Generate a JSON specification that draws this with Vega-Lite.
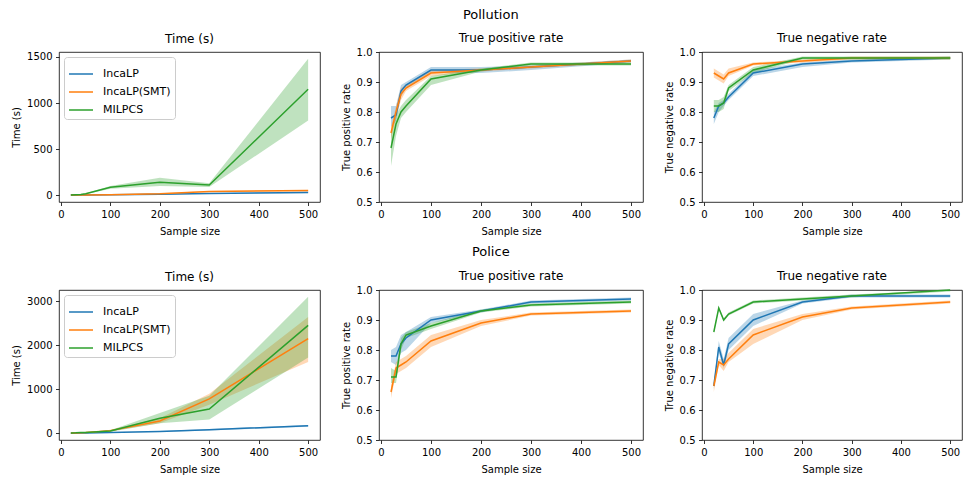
{
  "$schema": "https://vega.github.io/schema/vega-lite/v6.json",
  "padding": {"left": 11, "top": 8, "right": 0, "bottom": 0},
  "background": "white",
  "datasets": {
    "d": [
      {"d":"Pollution","m":"time","g":"IncaLP","n":20,"y":1,"lo":0,"hi":2},
      {"d":"Pollution","m":"time","g":"IncaLP","n":30,"y":1,"lo":0,"hi":2},
      {"d":"Pollution","m":"time","g":"IncaLP","n":40,"y":2,"lo":1,"hi":3},
      {"d":"Pollution","m":"time","g":"IncaLP","n":50,"y":2,"lo":1,"hi":3},
      {"d":"Pollution","m":"time","g":"IncaLP","n":100,"y":4,"lo":3,"hi":5},
      {"d":"Pollution","m":"time","g":"IncaLP","n":200,"y":9,"lo":7,"hi":11},
      {"d":"Pollution","m":"time","g":"IncaLP","n":300,"y":18,"lo":15,"hi":21},
      {"d":"Pollution","m":"time","g":"IncaLP","n":500,"y":30,"lo":25,"hi":36},
      {"d":"Pollution","m":"time","g":"IncaLP(SMT)","n":20,"y":1,"lo":0,"hi":2},
      {"d":"Pollution","m":"time","g":"IncaLP(SMT)","n":30,"y":2,"lo":1,"hi":3},
      {"d":"Pollution","m":"time","g":"IncaLP(SMT)","n":40,"y":2,"lo":1,"hi":3},
      {"d":"Pollution","m":"time","g":"IncaLP(SMT)","n":50,"y":3,"lo":2,"hi":4},
      {"d":"Pollution","m":"time","g":"IncaLP(SMT)","n":100,"y":6,"lo":5,"hi":8},
      {"d":"Pollution","m":"time","g":"IncaLP(SMT)","n":200,"y":16,"lo":13,"hi":20},
      {"d":"Pollution","m":"time","g":"IncaLP(SMT)","n":300,"y":40,"lo":35,"hi":45},
      {"d":"Pollution","m":"time","g":"IncaLP(SMT)","n":500,"y":50,"lo":44,"hi":57},
      {"d":"Pollution","m":"time","g":"MILPCS","n":20,"y":3,"lo":2,"hi":5},
      {"d":"Pollution","m":"time","g":"MILPCS","n":30,"y":5,"lo":3,"hi":8},
      {"d":"Pollution","m":"time","g":"MILPCS","n":40,"y":8,"lo":5,"hi":12},
      {"d":"Pollution","m":"time","g":"MILPCS","n":50,"y":15,"lo":10,"hi":22},
      {"d":"Pollution","m":"time","g":"MILPCS","n":100,"y":85,"lo":70,"hi":100},
      {"d":"Pollution","m":"time","g":"MILPCS","n":200,"y":140,"lo":100,"hi":190},
      {"d":"Pollution","m":"time","g":"MILPCS","n":300,"y":110,"lo":90,"hi":130},
      {"d":"Pollution","m":"time","g":"MILPCS","n":500,"y":1150,"lo":810,"hi":1480},

      {"d":"Pollution","m":"tpr","g":"IncaLP","n":20,"y":0.78,"lo":0.75,"hi":0.82},
      {"d":"Pollution","m":"tpr","g":"IncaLP","n":30,"y":0.79,"lo":0.77,"hi":0.82},
      {"d":"Pollution","m":"tpr","g":"IncaLP","n":40,"y":0.87,"lo":0.85,"hi":0.89},
      {"d":"Pollution","m":"tpr","g":"IncaLP","n":50,"y":0.89,"lo":0.88,"hi":0.9},
      {"d":"Pollution","m":"tpr","g":"IncaLP","n":100,"y":0.94,"lo":0.93,"hi":0.95},
      {"d":"Pollution","m":"tpr","g":"IncaLP","n":200,"y":0.94,"lo":0.93,"hi":0.95},
      {"d":"Pollution","m":"tpr","g":"IncaLP","n":300,"y":0.95,"lo":0.94,"hi":0.955},
      {"d":"Pollution","m":"tpr","g":"IncaLP","n":500,"y":0.97,"lo":0.965,"hi":0.975},
      {"d":"Pollution","m":"tpr","g":"IncaLP(SMT)","n":20,"y":0.73,"lo":0.71,"hi":0.75},
      {"d":"Pollution","m":"tpr","g":"IncaLP(SMT)","n":30,"y":0.8,"lo":0.78,"hi":0.82},
      {"d":"Pollution","m":"tpr","g":"IncaLP(SMT)","n":40,"y":0.86,"lo":0.84,"hi":0.88},
      {"d":"Pollution","m":"tpr","g":"IncaLP(SMT)","n":50,"y":0.88,"lo":0.87,"hi":0.89},
      {"d":"Pollution","m":"tpr","g":"IncaLP(SMT)","n":100,"y":0.93,"lo":0.92,"hi":0.94},
      {"d":"Pollution","m":"tpr","g":"IncaLP(SMT)","n":200,"y":0.94,"lo":0.935,"hi":0.945},
      {"d":"Pollution","m":"tpr","g":"IncaLP(SMT)","n":300,"y":0.95,"lo":0.945,"hi":0.955},
      {"d":"Pollution","m":"tpr","g":"IncaLP(SMT)","n":500,"y":0.97,"lo":0.965,"hi":0.975},
      {"d":"Pollution","m":"tpr","g":"MILPCS","n":20,"y":0.68,"lo":0.62,"hi":0.73},
      {"d":"Pollution","m":"tpr","g":"MILPCS","n":30,"y":0.76,"lo":0.72,"hi":0.79},
      {"d":"Pollution","m":"tpr","g":"MILPCS","n":40,"y":0.8,"lo":0.78,"hi":0.82},
      {"d":"Pollution","m":"tpr","g":"MILPCS","n":50,"y":0.82,"lo":0.8,"hi":0.84},
      {"d":"Pollution","m":"tpr","g":"MILPCS","n":100,"y":0.91,"lo":0.89,"hi":0.92},
      {"d":"Pollution","m":"tpr","g":"MILPCS","n":200,"y":0.94,"lo":0.935,"hi":0.945},
      {"d":"Pollution","m":"tpr","g":"MILPCS","n":300,"y":0.96,"lo":0.955,"hi":0.965},
      {"d":"Pollution","m":"tpr","g":"MILPCS","n":500,"y":0.96,"lo":0.955,"hi":0.965},

      {"d":"Pollution","m":"tnr","g":"IncaLP","n":20,"y":0.78,"lo":0.76,"hi":0.8},
      {"d":"Pollution","m":"tnr","g":"IncaLP","n":30,"y":0.82,"lo":0.8,"hi":0.83},
      {"d":"Pollution","m":"tnr","g":"IncaLP","n":40,"y":0.83,"lo":0.82,"hi":0.84},
      {"d":"Pollution","m":"tnr","g":"IncaLP","n":50,"y":0.85,"lo":0.84,"hi":0.86},
      {"d":"Pollution","m":"tnr","g":"IncaLP","n":100,"y":0.93,"lo":0.92,"hi":0.94},
      {"d":"Pollution","m":"tnr","g":"IncaLP","n":200,"y":0.96,"lo":0.95,"hi":0.965},
      {"d":"Pollution","m":"tnr","g":"IncaLP","n":300,"y":0.97,"lo":0.965,"hi":0.975},
      {"d":"Pollution","m":"tnr","g":"IncaLP","n":500,"y":0.98,"lo":0.975,"hi":0.985},
      {"d":"Pollution","m":"tnr","g":"IncaLP(SMT)","n":20,"y":0.93,"lo":0.915,"hi":0.945},
      {"d":"Pollution","m":"tnr","g":"IncaLP(SMT)","n":30,"y":0.92,"lo":0.905,"hi":0.935},
      {"d":"Pollution","m":"tnr","g":"IncaLP(SMT)","n":40,"y":0.91,"lo":0.895,"hi":0.925},
      {"d":"Pollution","m":"tnr","g":"IncaLP(SMT)","n":50,"y":0.93,"lo":0.92,"hi":0.945},
      {"d":"Pollution","m":"tnr","g":"IncaLP(SMT)","n":100,"y":0.96,"lo":0.955,"hi":0.965},
      {"d":"Pollution","m":"tnr","g":"IncaLP(SMT)","n":200,"y":0.97,"lo":0.965,"hi":0.975},
      {"d":"Pollution","m":"tnr","g":"IncaLP(SMT)","n":300,"y":0.98,"lo":0.975,"hi":0.985},
      {"d":"Pollution","m":"tnr","g":"IncaLP(SMT)","n":500,"y":0.98,"lo":0.975,"hi":0.985},
      {"d":"Pollution","m":"tnr","g":"MILPCS","n":20,"y":0.82,"lo":0.8,"hi":0.84},
      {"d":"Pollution","m":"tnr","g":"MILPCS","n":30,"y":0.82,"lo":0.8,"hi":0.84},
      {"d":"Pollution","m":"tnr","g":"MILPCS","n":40,"y":0.83,"lo":0.81,"hi":0.85},
      {"d":"Pollution","m":"tnr","g":"MILPCS","n":50,"y":0.88,"lo":0.87,"hi":0.89},
      {"d":"Pollution","m":"tnr","g":"MILPCS","n":100,"y":0.94,"lo":0.93,"hi":0.95},
      {"d":"Pollution","m":"tnr","g":"MILPCS","n":200,"y":0.98,"lo":0.975,"hi":0.985},
      {"d":"Pollution","m":"tnr","g":"MILPCS","n":300,"y":0.98,"lo":0.975,"hi":0.985},
      {"d":"Pollution","m":"tnr","g":"MILPCS","n":500,"y":0.98,"lo":0.975,"hi":0.985},

      {"d":"Police","m":"time","g":"IncaLP","n":20,"y":3,"lo":2,"hi":4},
      {"d":"Police","m":"time","g":"IncaLP","n":30,"y":4,"lo":3,"hi":5},
      {"d":"Police","m":"time","g":"IncaLP","n":40,"y":6,"lo":5,"hi":7},
      {"d":"Police","m":"time","g":"IncaLP","n":50,"y":8,"lo":6,"hi":10},
      {"d":"Police","m":"time","g":"IncaLP","n":100,"y":20,"lo":15,"hi":25},
      {"d":"Police","m":"time","g":"IncaLP","n":200,"y":40,"lo":30,"hi":50},
      {"d":"Police","m":"time","g":"IncaLP","n":300,"y":80,"lo":65,"hi":95},
      {"d":"Police","m":"time","g":"IncaLP","n":500,"y":170,"lo":150,"hi":190},
      {"d":"Police","m":"time","g":"IncaLP(SMT)","n":20,"y":5,"lo":3,"hi":7},
      {"d":"Police","m":"time","g":"IncaLP(SMT)","n":30,"y":8,"lo":6,"hi":10},
      {"d":"Police","m":"time","g":"IncaLP(SMT)","n":40,"y":10,"lo":8,"hi":13},
      {"d":"Police","m":"time","g":"IncaLP(SMT)","n":50,"y":15,"lo":12,"hi":18},
      {"d":"Police","m":"time","g":"IncaLP(SMT)","n":100,"y":60,"lo":45,"hi":80},
      {"d":"Police","m":"time","g":"IncaLP(SMT)","n":200,"y":280,"lo":230,"hi":340},
      {"d":"Police","m":"time","g":"IncaLP(SMT)","n":300,"y":780,"lo":650,"hi":900},
      {"d":"Police","m":"time","g":"IncaLP(SMT)","n":500,"y":2150,"lo":1620,"hi":2640},
      {"d":"Police","m":"time","g":"MILPCS","n":20,"y":8,"lo":5,"hi":12},
      {"d":"Police","m":"time","g":"MILPCS","n":30,"y":10,"lo":7,"hi":14},
      {"d":"Police","m":"time","g":"MILPCS","n":40,"y":15,"lo":10,"hi":20},
      {"d":"Police","m":"time","g":"MILPCS","n":50,"y":20,"lo":15,"hi":28},
      {"d":"Police","m":"time","g":"MILPCS","n":100,"y":50,"lo":35,"hi":70},
      {"d":"Police","m":"time","g":"MILPCS","n":200,"y":340,"lo":230,"hi":460},
      {"d":"Police","m":"time","g":"MILPCS","n":300,"y":550,"lo":310,"hi":850},
      {"d":"Police","m":"time","g":"MILPCS","n":500,"y":2450,"lo":1720,"hi":3100},

      {"d":"Police","m":"tpr","g":"IncaLP","n":20,"y":0.78,"lo":0.76,"hi":0.8},
      {"d":"Police","m":"tpr","g":"IncaLP","n":30,"y":0.78,"lo":0.75,"hi":0.81},
      {"d":"Police","m":"tpr","g":"IncaLP","n":40,"y":0.82,"lo":0.79,"hi":0.85},
      {"d":"Police","m":"tpr","g":"IncaLP","n":50,"y":0.84,"lo":0.8,"hi":0.86},
      {"d":"Police","m":"tpr","g":"IncaLP","n":100,"y":0.9,"lo":0.89,"hi":0.91},
      {"d":"Police","m":"tpr","g":"IncaLP","n":200,"y":0.93,"lo":0.925,"hi":0.935},
      {"d":"Police","m":"tpr","g":"IncaLP","n":300,"y":0.96,"lo":0.955,"hi":0.965},
      {"d":"Police","m":"tpr","g":"IncaLP","n":500,"y":0.97,"lo":0.965,"hi":0.975},
      {"d":"Police","m":"tpr","g":"IncaLP(SMT)","n":20,"y":0.66,"lo":0.64,"hi":0.68},
      {"d":"Police","m":"tpr","g":"IncaLP(SMT)","n":30,"y":0.74,"lo":0.72,"hi":0.76},
      {"d":"Police","m":"tpr","g":"IncaLP(SMT)","n":40,"y":0.75,"lo":0.73,"hi":0.77},
      {"d":"Police","m":"tpr","g":"IncaLP(SMT)","n":50,"y":0.76,"lo":0.74,"hi":0.78},
      {"d":"Police","m":"tpr","g":"IncaLP(SMT)","n":100,"y":0.83,"lo":0.81,"hi":0.85},
      {"d":"Police","m":"tpr","g":"IncaLP(SMT)","n":200,"y":0.89,"lo":0.88,"hi":0.9},
      {"d":"Police","m":"tpr","g":"IncaLP(SMT)","n":300,"y":0.92,"lo":0.915,"hi":0.925},
      {"d":"Police","m":"tpr","g":"IncaLP(SMT)","n":500,"y":0.93,"lo":0.925,"hi":0.935},
      {"d":"Police","m":"tpr","g":"MILPCS","n":20,"y":0.71,"lo":0.69,"hi":0.74},
      {"d":"Police","m":"tpr","g":"MILPCS","n":30,"y":0.71,"lo":0.69,"hi":0.73},
      {"d":"Police","m":"tpr","g":"MILPCS","n":40,"y":0.82,"lo":0.8,"hi":0.84},
      {"d":"Police","m":"tpr","g":"MILPCS","n":50,"y":0.85,"lo":0.84,"hi":0.86},
      {"d":"Police","m":"tpr","g":"MILPCS","n":100,"y":0.88,"lo":0.87,"hi":0.89},
      {"d":"Police","m":"tpr","g":"MILPCS","n":200,"y":0.93,"lo":0.925,"hi":0.935},
      {"d":"Police","m":"tpr","g":"MILPCS","n":300,"y":0.95,"lo":0.945,"hi":0.955},
      {"d":"Police","m":"tpr","g":"MILPCS","n":500,"y":0.96,"lo":0.955,"hi":0.965},

      {"d":"Police","m":"tnr","g":"IncaLP","n":20,"y":0.68,"lo":0.67,"hi":0.69},
      {"d":"Police","m":"tnr","g":"IncaLP","n":30,"y":0.81,"lo":0.79,"hi":0.83},
      {"d":"Police","m":"tnr","g":"IncaLP","n":40,"y":0.75,"lo":0.74,"hi":0.77},
      {"d":"Police","m":"tnr","g":"IncaLP","n":50,"y":0.82,"lo":0.8,"hi":0.84},
      {"d":"Police","m":"tnr","g":"IncaLP","n":100,"y":0.9,"lo":0.88,"hi":0.92},
      {"d":"Police","m":"tnr","g":"IncaLP","n":200,"y":0.96,"lo":0.955,"hi":0.965},
      {"d":"Police","m":"tnr","g":"IncaLP","n":300,"y":0.98,"lo":0.975,"hi":0.985},
      {"d":"Police","m":"tnr","g":"IncaLP","n":500,"y":0.98,"lo":0.975,"hi":0.985},
      {"d":"Police","m":"tnr","g":"IncaLP(SMT)","n":20,"y":0.68,"lo":0.66,"hi":0.7},
      {"d":"Police","m":"tnr","g":"IncaLP(SMT)","n":30,"y":0.76,"lo":0.75,"hi":0.77},
      {"d":"Police","m":"tnr","g":"IncaLP(SMT)","n":40,"y":0.75,"lo":0.73,"hi":0.77},
      {"d":"Police","m":"tnr","g":"IncaLP(SMT)","n":50,"y":0.77,"lo":0.76,"hi":0.79},
      {"d":"Police","m":"tnr","g":"IncaLP(SMT)","n":100,"y":0.85,"lo":0.82,"hi":0.87},
      {"d":"Police","m":"tnr","g":"IncaLP(SMT)","n":200,"y":0.91,"lo":0.9,"hi":0.92},
      {"d":"Police","m":"tnr","g":"IncaLP(SMT)","n":300,"y":0.94,"lo":0.935,"hi":0.945},
      {"d":"Police","m":"tnr","g":"IncaLP(SMT)","n":500,"y":0.96,"lo":0.955,"hi":0.965},
      {"d":"Police","m":"tnr","g":"MILPCS","n":20,"y":0.86,"lo":0.855,"hi":0.865},
      {"d":"Police","m":"tnr","g":"MILPCS","n":30,"y":0.94,"lo":0.935,"hi":0.945},
      {"d":"Police","m":"tnr","g":"MILPCS","n":40,"y":0.9,"lo":0.895,"hi":0.905},
      {"d":"Police","m":"tnr","g":"MILPCS","n":50,"y":0.92,"lo":0.915,"hi":0.925},
      {"d":"Police","m":"tnr","g":"MILPCS","n":100,"y":0.96,"lo":0.955,"hi":0.965},
      {"d":"Police","m":"tnr","g":"MILPCS","n":200,"y":0.97,"lo":0.965,"hi":0.975},
      {"d":"Police","m":"tnr","g":"MILPCS","n":300,"y":0.98,"lo":0.975,"hi":0.985},
      {"d":"Police","m":"tnr","g":"MILPCS","n":500,"y":1.0,"lo":0.995,"hi":1.0}
    ]
  },
  "data": {"name": "d"},
  "spacing": 8,
  "resolve": {"scale": {"color": "independent"}, "legend": {"color": "independent"}},
  "vconcat": [
    {
      "title": {"text": "Pollution", "anchor": "middle", "frame": "bounds", "fontSize": 13, "offset": 10, "dx": 4},
      "bounds": "flush",
      "spacing": 59,
      "resolve": {"scale": {"color": "independent", "y": "independent"}, "legend": {"color": "independent"}},
      "hconcat": [
        {
          "width": 261, "height": 150, "title": {"text": "Time (s)", "offset": 6},
          "transform": [{"filter": "datum.d == 'Pollution' && datum.m == 'time'"}],
          "layer": [
            {"mark": {"type": "area", "opacity": 0.3},
             "encoding": {
               "x": {"field": "n", "type": "quantitative", "scale": {"domain": [-4, 524], "nice": false, "zero": false}, "axis": {"values": [0,100,200,300,400,500], "title": "Sample size"}},
               "y": {"field": "lo", "type": "quantitative", "scale": {"domain": [-74, 1554], "nice": false, "zero": false}, "axis": {"values": [0,500,1000,1500], "format": "d", "title": "Time (s)"}},
               "y2": {"field": "hi"},
               "color": {"field": "g", "type": "nominal", "scale": {"domain": ["IncaLP","IncaLP(SMT)","MILPCS"], "range": ["#1f77b4","#ff7f0e","#2ca02c"]}, "legend": {"title": null}}}},
            {"mark": {"type": "line", "strokeWidth": 1.5},
             "encoding": {
               "x": {"field": "n", "type": "quantitative", "scale": {"domain": [-4, 524], "nice": false, "zero": false}, "axis": {"values": [0,100,200,300,400,500], "title": "Sample size"}},
               "y": {"field": "y", "type": "quantitative", "scale": {"domain": [-74, 1554], "nice": false, "zero": false}, "axis": {"values": [0,500,1000,1500], "format": "d", "title": "Time (s)"}},
               "color": {"field": "g", "type": "nominal", "scale": {"domain": ["IncaLP","IncaLP(SMT)","MILPCS"], "range": ["#1f77b4","#ff7f0e","#2ca02c"]}, "legend": {"title": null}}}}
          ]
        },
        {
          "width": 264, "height": 150, "title": {"text": "True positive rate", "offset": 2},
          "transform": [{"filter": "datum.d == 'Pollution' && datum.m == 'tpr'"}],
          "layer": [
            {"mark": {"type": "area", "opacity": 0.3},
             "encoding": {
               "x": {"field": "n", "type": "quantitative", "scale": {"domain": [-4, 524], "nice": false, "zero": false}, "axis": {"values": [0,100,200,300,400,500], "title": "Sample size"}},
               "y": {"field": "lo", "type": "quantitative", "scale": {"domain": [0.5, 1.0], "nice": false, "zero": false}, "axis": {"values": [0.5,0.6,0.7,0.8,0.9,1.0], "format": ".1f", "title": "True positive rate"}},
               "y2": {"field": "hi"},
               "color": {"field": "g", "type": "nominal", "scale": {"domain": ["IncaLP","IncaLP(SMT)","MILPCS"], "range": ["#1f77b4","#ff7f0e","#2ca02c"]}, "legend": null}}},
            {"mark": {"type": "line", "strokeWidth": 1.5},
             "encoding": {
               "x": {"field": "n", "type": "quantitative", "scale": {"domain": [-4, 524], "nice": false, "zero": false}, "axis": {"values": [0,100,200,300,400,500], "title": "Sample size"}},
               "y": {"field": "y", "type": "quantitative", "scale": {"domain": [0.5, 1.0], "nice": false, "zero": false}, "axis": {"values": [0.5,0.6,0.7,0.8,0.9,1.0], "format": ".1f", "title": "True positive rate"}},
               "color": {"field": "g", "type": "nominal", "scale": {"domain": ["IncaLP","IncaLP(SMT)","MILPCS"], "range": ["#1f77b4","#ff7f0e","#2ca02c"]}, "legend": null}}}
          ]
        },
        {
          "width": 260, "height": 150, "title": {"text": "True negative rate", "offset": 2},
          "transform": [{"filter": "datum.d == 'Pollution' && datum.m == 'tnr'"}],
          "layer": [
            {"mark": {"type": "area", "opacity": 0.3},
             "encoding": {
               "x": {"field": "n", "type": "quantitative", "scale": {"domain": [-4, 524], "nice": false, "zero": false}, "axis": {"values": [0,100,200,300,400,500], "title": "Sample size"}},
               "y": {"field": "lo", "type": "quantitative", "scale": {"domain": [0.5, 1.0], "nice": false, "zero": false}, "axis": {"values": [0.5,0.6,0.7,0.8,0.9,1.0], "format": ".1f", "title": "True negative rate"}},
               "y2": {"field": "hi"},
               "color": {"field": "g", "type": "nominal", "scale": {"domain": ["IncaLP","IncaLP(SMT)","MILPCS"], "range": ["#1f77b4","#ff7f0e","#2ca02c"]}, "legend": null}}},
            {"mark": {"type": "line", "strokeWidth": 1.5},
             "encoding": {
               "x": {"field": "n", "type": "quantitative", "scale": {"domain": [-4, 524], "nice": false, "zero": false}, "axis": {"values": [0,100,200,300,400,500], "title": "Sample size"}},
               "y": {"field": "y", "type": "quantitative", "scale": {"domain": [0.5, 1.0], "nice": false, "zero": false}, "axis": {"values": [0.5,0.6,0.7,0.8,0.9,1.0], "format": ".1f", "title": "True negative rate"}},
               "color": {"field": "g", "type": "nominal", "scale": {"domain": ["IncaLP","IncaLP(SMT)","MILPCS"], "range": ["#1f77b4","#ff7f0e","#2ca02c"]}, "legend": null}}}
          ]
        }
      ]
    },
    {
      "title": {"text": "Police", "anchor": "middle", "frame": "bounds", "fontSize": 13, "offset": 11, "dx": 4},
      "bounds": "flush",
      "spacing": 59,
      "resolve": {"scale": {"color": "independent", "y": "independent"}, "legend": {"color": "independent"}},
      "hconcat": [
        {
          "width": 261, "height": 150, "title": {"text": "Time (s)", "offset": 6},
          "transform": [{"filter": "datum.d == 'Police' && datum.m == 'time'"}],
          "layer": [
            {"mark": {"type": "area", "opacity": 0.3},
             "encoding": {
               "x": {"field": "n", "type": "quantitative", "scale": {"domain": [-4, 524], "nice": false, "zero": false}, "axis": {"values": [0,100,200,300,400,500], "title": "Sample size"}},
               "y": {"field": "lo", "type": "quantitative", "scale": {"domain": [-153, 3255], "nice": false, "zero": false}, "axis": {"values": [0,1000,2000,3000], "format": "d", "title": "Time (s)"}},
               "y2": {"field": "hi"},
               "color": {"field": "g", "type": "nominal", "scale": {"domain": ["IncaLP","IncaLP(SMT)","MILPCS"], "range": ["#1f77b4","#ff7f0e","#2ca02c"]}, "legend": {"title": null}}}},
            {"mark": {"type": "line", "strokeWidth": 1.5},
             "encoding": {
               "x": {"field": "n", "type": "quantitative", "scale": {"domain": [-4, 524], "nice": false, "zero": false}, "axis": {"values": [0,100,200,300,400,500], "title": "Sample size"}},
               "y": {"field": "y", "type": "quantitative", "scale": {"domain": [-153, 3255], "nice": false, "zero": false}, "axis": {"values": [0,1000,2000,3000], "format": "d", "title": "Time (s)"}},
               "color": {"field": "g", "type": "nominal", "scale": {"domain": ["IncaLP","IncaLP(SMT)","MILPCS"], "range": ["#1f77b4","#ff7f0e","#2ca02c"]}, "legend": {"title": null}}}}
          ]
        },
        {
          "width": 264, "height": 150, "title": {"text": "True positive rate", "offset": 2},
          "transform": [{"filter": "datum.d == 'Police' && datum.m == 'tpr'"}],
          "layer": [
            {"mark": {"type": "area", "opacity": 0.3},
             "encoding": {
               "x": {"field": "n", "type": "quantitative", "scale": {"domain": [-4, 524], "nice": false, "zero": false}, "axis": {"values": [0,100,200,300,400,500], "title": "Sample size"}},
               "y": {"field": "lo", "type": "quantitative", "scale": {"domain": [0.5, 1.0], "nice": false, "zero": false}, "axis": {"values": [0.5,0.6,0.7,0.8,0.9,1.0], "format": ".1f", "title": "True positive rate"}},
               "y2": {"field": "hi"},
               "color": {"field": "g", "type": "nominal", "scale": {"domain": ["IncaLP","IncaLP(SMT)","MILPCS"], "range": ["#1f77b4","#ff7f0e","#2ca02c"]}, "legend": null}}},
            {"mark": {"type": "line", "strokeWidth": 1.5},
             "encoding": {
               "x": {"field": "n", "type": "quantitative", "scale": {"domain": [-4, 524], "nice": false, "zero": false}, "axis": {"values": [0,100,200,300,400,500], "title": "Sample size"}},
               "y": {"field": "y", "type": "quantitative", "scale": {"domain": [0.5, 1.0], "nice": false, "zero": false}, "axis": {"values": [0.5,0.6,0.7,0.8,0.9,1.0], "format": ".1f", "title": "True positive rate"}},
               "color": {"field": "g", "type": "nominal", "scale": {"domain": ["IncaLP","IncaLP(SMT)","MILPCS"], "range": ["#1f77b4","#ff7f0e","#2ca02c"]}, "legend": null}}}
          ]
        },
        {
          "width": 260, "height": 150, "title": {"text": "True negative rate", "offset": 2},
          "transform": [{"filter": "datum.d == 'Police' && datum.m == 'tnr'"}],
          "layer": [
            {"mark": {"type": "area", "opacity": 0.3},
             "encoding": {
               "x": {"field": "n", "type": "quantitative", "scale": {"domain": [-4, 524], "nice": false, "zero": false}, "axis": {"values": [0,100,200,300,400,500], "title": "Sample size"}},
               "y": {"field": "lo", "type": "quantitative", "scale": {"domain": [0.5, 1.0], "nice": false, "zero": false}, "axis": {"values": [0.5,0.6,0.7,0.8,0.9,1.0], "format": ".1f", "title": "True negative rate"}},
               "y2": {"field": "hi"},
               "color": {"field": "g", "type": "nominal", "scale": {"domain": ["IncaLP","IncaLP(SMT)","MILPCS"], "range": ["#1f77b4","#ff7f0e","#2ca02c"]}, "legend": null}}},
            {"mark": {"type": "line", "strokeWidth": 1.5},
             "encoding": {
               "x": {"field": "n", "type": "quantitative", "scale": {"domain": [-4, 524], "nice": false, "zero": false}, "axis": {"values": [0,100,200,300,400,500], "title": "Sample size"}},
               "y": {"field": "y", "type": "quantitative", "scale": {"domain": [0.5, 1.0], "nice": false, "zero": false}, "axis": {"values": [0.5,0.6,0.7,0.8,0.9,1.0], "format": ".1f", "title": "True negative rate"}},
               "color": {"field": "g", "type": "nominal", "scale": {"domain": ["IncaLP","IncaLP(SMT)","MILPCS"], "range": ["#1f77b4","#ff7f0e","#2ca02c"]}, "legend": null}}}
          ]
        }
      ]
    }
  ],
  "config": {
    "font": "DejaVu Sans",
    "view": {"stroke": "#000", "strokeWidth": 0.8},
    "axis": {"domain": false, "grid": false, "ticks": true, "tickColor": "#000", "tickSize": 3.5, "tickWidth": 0.8,
             "labelFont": "DejaVu Sans", "labelFontSize": 10, "labelColor": "#000", "labelPadding": 3.5,
             "titleFont": "DejaVu Sans", "titleFontSize": 10, "titleFontWeight": "normal", "titleColor": "#000", "titlePadding": 5},
    "axisX": {"labelFlush": false, "titlePadding": 7},
    "axisY": {"labelFlush": false},
    "title": {"font": "DejaVu Sans", "fontSize": 12, "fontWeight": "normal", "color": "#000", "offset": 8, "frame": "group"},
    "legend": {"orient": "top-left", "offset": 5, "strokeColor": "#cccccc", "fillColor": "rgba(255,255,255,0.8)", "cornerRadius": 3, "padding": 4,
               "symbolType": "stroke", "symbolSize": 576, "symbolStrokeWidth": 1.5, "symbolOpacity": 1, "labelFont": "DejaVu Sans", "labelFontSize": 11, "labelColor": "#000",
               "labelOffset": 9, "rowPadding": -6}
  }
}
